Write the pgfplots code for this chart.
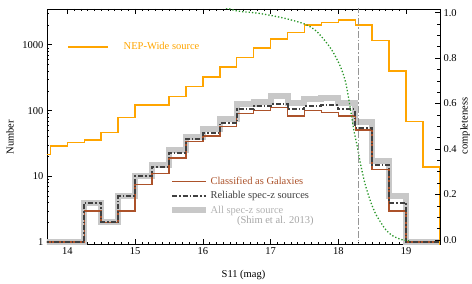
\documentclass[border=0pt]{standalone}
\usepackage{pgfplots}
\pgfplotsset{compat=1.18}
\usepackage{fontspec}
\setmainfont{Liberation Serif}
\definecolor{nep}{RGB}{255,165,0}
\definecolor{gal}{RGB}{172,82,42}
\definecolor{rel}{RGB}{64,64,64}
\definecolor{allz}{RGB}{200,200,200}
\definecolor{comp}{RGB}{40,150,40}
\definecolor{vline}{RGB}{150,150,150}

\pgfplotstableread{
x y
13.5 21.4
13.75 29.2
14.0 32.7
14.25 36
14.5 46.4
14.75 78
15.0 121
15.25 121
15.5 165
15.75 234
16.0 323
16.25 457
16.5 646
16.75 895
17.0 1222
17.25 1537
17.5 2009
17.75 2174
18.0 2361
18.25 2009
18.5 1153
18.75 398
19.0 67.8
19.25 13.8
19.5 13.8
19.5 0.3
}\nep

\pgfplotstableread{
x y
13.5 1
13.75 1
14.0 1
14.25 3
14.5 2
14.75 3
15.0 7.5
15.25 11
15.5 19
15.75 34
16.0 41
16.25 57
16.5 91
16.75 100
17.0 111
17.25 83
17.5 101
17.75 94
18.0 83
18.25 51
18.5 12.7
18.75 3
19.0 1
19.25 1
19.5 1
}\gal

\pgfplotstableread{
x y
13.5 1
13.75 1
14.0 1
14.25 4
14.5 2
14.75 5
15.0 10
15.25 14
15.5 23
15.75 37
16.0 45
16.25 65
16.5 105
16.75 117
17.0 125
17.25 104
17.5 118
17.75 121
18.0 104
18.25 55
18.5 15
18.75 4
19.0 1
19.25 1
19.5 1
}\rel

\pgfplotstableread{
x y
13.5 1
13.75 1
14.0 1
14.25 4
14.5 2
14.75 5
15.0 10
15.25 15
15.5 25
15.75 40
16.0 52
16.25 75
16.5 125
16.75 135
17.0 165
17.25 130
17.5 150
17.75 158
18.0 130
18.25 67
18.5 17
18.75 5
19.0 1
19.25 1
19.5 1
}\allz

\pgfplotstableread{
x y
16.25 1.03
16.5 1.008
16.8 0.998
17.0 0.988
17.25 0.972
17.5 0.950
17.65 0.925
17.75 0.895
17.9 0.837
18.03 0.763
18.11 0.69
18.18 0.572
18.23 0.48
18.28 0.41
18.33 0.33
18.40 0.24
18.48 0.165
18.55 0.115
18.63 0.075
18.70 0.045
18.78 0.022
18.87 0.008
18.95 0.0
19.05 -0.004
}\comp

\begin{document}
\begin{tikzpicture}
\pgfplotsset{
  every axis/.append style={
    scale only axis, width=393pt, height=235pt,
    xmin=13.7, xmax=19.5,
    font=\fontsize{10.5}{12}\selectfont,
    /pgf/number format/assume math mode=true,
    tick align=inside,
    major tick length=5pt, minor tick length=2.5pt,
    every tick/.style={black, line width=0.6pt},
    axis line style={line width=0.8pt},
  },
}
\begin{axis}[
  ymode=log, ymin=0.94, ymax=3500,
  ytick={1,10,100,1000}, yticklabels={1,10,100,1000},
  minor ytick={2,3,4,5,6,7,8,9,20,30,40,50,60,70,80,90,200,300,400,500,600,700,800,900,2000,3000},
  ytick pos=left,
  xtick={14,15,16,17,18,19},
  minor x tick num=9,
  xtick pos=both, xticklabel pos=lower,
  xlabel={S11 (mag)}, ylabel={Number},
  xlabel style={at={(axis description cs:0.5,-0.132)}, anchor=center},
  ylabel style={at={(axis description cs:-0.094,0.455)}, anchor=center},
  legend image code/.code={\draw[#1] (0pt,0pt) -- (34pt,0pt);},
  legend style={draw=none, fill=none, inner sep=0pt,
    at={(axis description cs:0.310,0.293)}, anchor=north west,
    nodes={inner sep=1.5pt}, row sep=2.6pt,
    font=\fontsize{10.5}{12}\selectfont},
  legend cell align=left,
]
\addplot[allz, line width=6pt, const plot mark left, forget plot] table {\allz};
\addplot[gal, line width=1.5pt, const plot mark left, forget plot] table {\gal};
\addplot[rel, line width=2pt, dash pattern=on 5pt off 2pt on 1.5pt off 2pt, const plot mark left, forget plot] table {\rel};
\addplot[nep, line width=1.5pt, const plot mark left, forget plot] table {\nep};
\addlegendimage{gal, line width=1.5pt}
\addlegendentry{\textcolor{gal}{Classified as Galaxies}}
\addlegendimage{rel, line width=2pt, dash pattern=on 5pt off 2pt on 1.5pt off 2pt}
\addlegendentry{\textcolor{rel}{Reliable spec-z sources}}
\addlegendimage{allz, line width=6pt}
\addlegendentry{\textcolor{black!30}{All spec-z source}}
\node[anchor=west, text=black!35, inner sep=0pt, font=\fontsize{10.5}{12}\selectfont] at (axis description cs:0.483,0.097) {(Shim et al. 2013)};
\end{axis}
\begin{axis}[
  ymin=-0.018, ymax=1.016,
  axis x line=none,
  axis y line*=right,
  ytick={0,0.2,0.4,0.6,0.8,1.0},
  minor y tick num=3,
  yticklabel style={/pgf/number format/.cd, fixed, fixed zerofill, precision=1},
  ylabel={completeness},
  ylabel style={at={(axis description cs:1.064,0.502)}, anchor=center},
  legend image code/.code={\draw[#1] (0pt,0pt) -- (40pt,0pt);},
  legend style={draw=none, fill=none, inner sep=0pt,
    at={(axis description cs:0.051,0.838)}, anchor=west,
    nodes={inner sep=0pt}, /tikz/every odd column/.style={column sep=15pt},
    font=\fontsize{10.5}{12}\selectfont},
]
\addplot[comp, line width=1.3pt, dotted, smooth, forget plot] table {\comp};
\addplot[vline, line width=0.8pt, dash pattern=on 7pt off 2pt on 1.5pt off 2pt, forget plot] coordinates {(18.3,-0.1) (18.3,1.1)};
\addlegendimage{nep, line width=1.5pt}
\addlegendentry{\textcolor{nep}{NEP-Wide source}}
\end{axis}
\pgfresetboundingbox
\path (-47pt,-40pt) rectangle (425pt,244pt);
\end{tikzpicture}
\end{document}
